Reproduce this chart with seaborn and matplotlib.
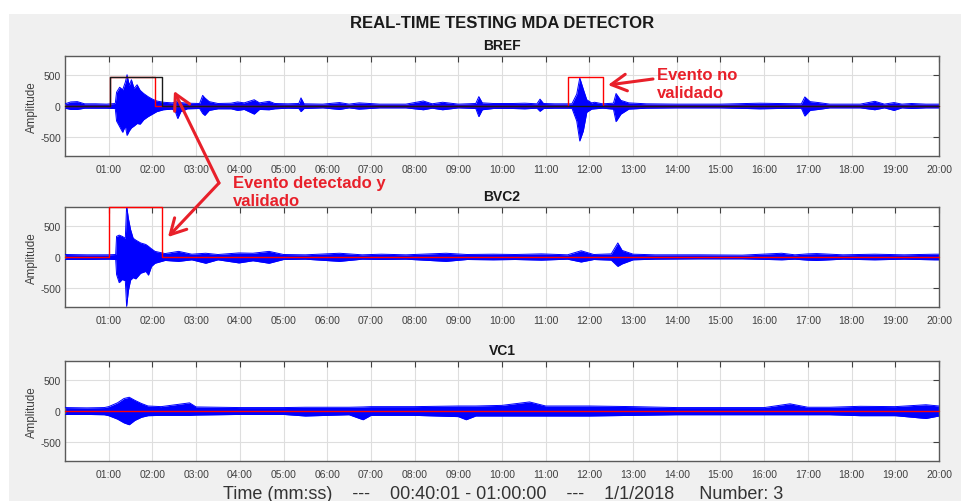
import numpy as np
import pandas as pd
import matplotlib
matplotlib.use("Agg")
import matplotlib.pyplot as plt
import seaborn as sns
from matplotlib.patches import Rectangle, FancyArrowPatch

sns.set_style("white")
plt.rcParams['font.family'] = ['Liberation Sans', 'DejaVu Sans']

# ---------------- data ----------------
stations = ["BREF", "BVC2", "VC1"]

bref_t = [0.00, 0.13, 0.28, 0.45, 0.70, 0.95, 1.15, 1.18, 1.25, 1.32, 1.38, 1.42, 1.47, 1.52, 1.58, 1.65,
          1.72, 1.80, 1.90, 2.00, 2.10, 2.25, 2.45, 2.52, 2.58, 2.65, 2.80, 3.08, 3.15, 3.20, 3.30, 3.50,
          3.80, 3.95, 4.10, 4.33, 4.45, 4.67, 4.80, 5.10, 5.35, 5.40, 5.47, 5.90, 6.28, 6.50, 6.73, 7.20,
          7.80, 8.20, 8.40, 8.64, 9.00, 9.40, 9.47, 9.55, 9.80, 10.25, 10.52, 10.80, 10.87, 10.95, 11.20,
          11.60, 11.71, 11.78, 11.86, 11.94, 12.05, 12.12, 12.30, 12.55, 12.61, 12.72, 12.90, 13.30, 14.00,
          15.00, 15.90, 16.30, 16.85, 16.93, 17.05, 17.24, 17.50, 18.20, 18.53, 18.75, 18.97, 19.15, 19.37,
          19.70, 20.00]
bref_up = [35, 65, 70, 35, 35, 30, 40, 220, 300, 260, 380, 500, 330, 420, 280, 340,
           250, 200, 150, 110, 80, 60, 50, 60, 90, 55, 45, 40, 170, 130, 70, 40,
           45, 65, 50, 100, 50, 75, 40, 35, 40, 130, 35, 30, 55, 30, 50, 30,
           30, 80, 35, 60, 30, 40, 150, 50, 40, 40, 45, 35, 110, 40, 35,
           35, 190, 450, 270, 100, 50, 60, 35, 45, 200, 90, 50, 35, 30,
           30, 45, 40, 35, 145, 70, 55, 30, 30, 75, 30, 55, 30, 40,
           30, 30]
bref_lo = [-35, -55, -55, -35, -35, -35, -40, -240, -330, -420, -320, -470, -400, -350, -320, -280,
           -290, -220, -170, -130, -90, -60, -50, -80, -200, -90, -45, -40, -120, -150, -70, -45,
           -45, -70, -55, -130, -55, -60, -45, -35, -40, -90, -40, -30, -55, -30, -50, -30,
           -30, -60, -35, -60, -30, -40, -170, -60, -40, -40, -45, -35, -85, -40, -35,
           -35, -240, -560, -400, -100, -50, -45, -35, -50, -250, -130, -50, -35, -30,
           -30, -45, -40, -35, -160, -70, -55, -30, -30, -60, -30, -70, -30, -40,
           -30, -30]

bvc2_t = [0.00, 0.50, 1.00, 1.16, 1.18, 1.24, 1.31, 1.38, 1.41, 1.45, 1.50, 1.56, 1.62, 1.73, 1.85, 1.91,
          1.98, 2.06, 2.29, 2.60, 2.90, 3.22, 3.50, 3.98, 4.30, 4.67, 5.00, 5.50, 6.28, 6.80, 7.24, 7.80,
          8.72, 9.20, 9.80, 10.30, 10.90, 11.50, 11.81, 12.10, 12.50, 12.65, 12.75, 13.00, 13.50, 14.50,
          15.50, 16.40, 16.70, 17.00, 17.20, 17.80, 18.53, 19.20, 19.90, 20.00]
bvc2_up = [40, 35, 35, 40, 330, 350, 330, 300, 820, 620, 440, 300, 270, 225, 200, 170,
           130, 90, 55, 90, 45, 60, 40, 65, 60, 90, 40, 35, 60, 35, 45, 35,
           60, 40, 45, 40, 50, 35, 100, 40, 50, 225, 105, 45, 35, 35,
           30, 60, 35, 50, 55, 35, 45, 35, 45, 45]
bvc2_lo = [-40, -40, -35, -40, -280, -410, -360, -380, -790, -540, -370, -330, -350, -260, -230, -290,
           -150, -100, -55, -70, -45, -100, -45, -95, -60, -100, -40, -35, -70, -35, -40, -35,
           -70, -40, -45, -40, -50, -35, -80, -40, -50, -150, -110, -45, -35, -30,
           -30, -45, -35, -50, -55, -35, -45, -35, -45, -45]

vc1_t = [0.00, 0.50, 0.90, 1.00, 1.20, 1.35, 1.47, 1.60, 1.75, 1.90, 2.20, 2.85, 3.00, 4.00, 5.00, 5.50,
         6.50, 6.82, 7.00, 8.00, 9.00, 9.18, 9.40, 10.00, 10.63, 11.00, 12.00, 13.00, 14.00, 15.00,
         16.00, 16.59, 17.00, 17.50, 18.20, 19.00, 19.70, 20.00]
vc1_up = [55, 50, 55, 70, 130, 200, 220, 170, 120, 80, 70, 130, 65, 55, 55, 60,
          60, 65, 70, 70, 80, 80, 80, 90, 145, 80, 80, 70, 55, 55,
          55, 115, 60, 60, 75, 70, 100, 80]
vc1_lo = [-55, -55, -60, -75, -130, -190, -220, -150, -100, -75, -70, -70, -65, -55, -55, -80,
          -60, -140, -70, -70, -90, -140, -80, -80, -80, -80, -80, -70, -60, -60,
          -60, -60, -60, -60, -75, -75, -120, -80]

# detector outputs (step signals)
bref_red_t = [0, 1.04, 1.04, 2.06, 2.06, 11.52, 11.52, 12.30, 12.30, 20]
bref_red_v = [0, 0, 470, 470, 0, 0, 470, 470, 0, 0]
bref_blk_t = [0, 1.03, 1.03, 2.23, 2.23, 20]
bref_blk_v = [0, 0, 470, 470, 0, 0]
bvc2_red_t = [0, 1.01, 1.01, 2.23, 2.23, 20]
bvc2_red_v = [0, 0, 798, 798, 0, 0]
vc1_red_t = [0, 20]
vc1_red_v = [0, 0]

tick_minutes = [1, 2, 3, 4, 5, 6, 7, 8, 9, 10, 11, 12, 13, 14, 15, 16, 17, 18, 19, 20]
tick_labels = ["01:00", "02:00", "03:00", "04:00", "05:00", "06:00", "07:00", "08:00", "09:00", "10:00",
               "11:00", "12:00", "13:00", "14:00", "15:00", "16:00", "17:00", "18:00", "19:00", "20:00"]
ytick_vals = [-500, 0, 500]
ytick_labels = ["-500", "0", "500"]

title = "REAL-TIME TESTING MDA DETECTOR"
bottom_label = "Time (mm:ss)    ---    00:40:01 - 01:00:00    ---    1/1/2018     Number: 3"

# ---------------- figure ----------------
W, H = 962, 502
fig = plt.figure(figsize=(W / 100, H / 100), dpi=100, facecolor="white")
fig.add_artist(Rectangle((9 / W, 0), 1, 1 - 15 / H, transform=fig.transFigure,
                         facecolor="#f0f0f0", edgecolor="none", zorder=-10))

def fx(px):
    return px / W

def fy(py):
    return 1 - py / H

ax_tops = [57, 208, 362]
traces = [
    (bref_t, bref_up, bref_lo, [(bref_red_t, bref_red_v, "#ff0000"), (bref_blk_t, bref_blk_v, "#1a1a1a")]),
    (bvc2_t, bvc2_up, bvc2_lo, [(bvc2_red_t, bvc2_red_v, "#ff0000")]),
    (vc1_t, vc1_up, vc1_lo, [(vc1_red_t, vc1_red_v, "#ff0000")]),
]

BLUE = "#0000ff"
for name, top, (t, up, lo, steps) in zip(stations, ax_tops, traces):
    ax = fig.add_axes([fx(65), fy(top + 100), 874 / W, 100 / H])
    ax.set_facecolor("white")
    df = pd.DataFrame({"t": t, "up": up, "lo": lo})
    ax.fill_between(df["t"].to_numpy(), df["lo"].to_numpy(), df["up"].to_numpy(),
                    color=BLUE, lw=0, zorder=2)
    sns.lineplot(data=df, x="t", y="up", ax=ax, color=BLUE, lw=0.7, estimator=None, sort=False, zorder=3)
    sns.lineplot(data=df, x="t", y="lo", ax=ax, color=BLUE, lw=0.7, estimator=None, sort=False, zorder=3)
    for st, sv, col in steps:
        sdf = pd.DataFrame({"t": st, "v": sv})
        sns.lineplot(data=sdf, x="t", y="v", ax=ax, color=col, lw=1.0, estimator=None, sort=False,
                     zorder=4, clip_on=False)
    ax.set_xlim(0, 20)
    ax.set_ylim(-800, 800)
    ax.set_xticks(tick_minutes)
    ax.set_xticklabels(tick_labels)
    ax.set_yticks(ytick_vals)
    ax.set_yticklabels(ytick_labels)
    ax.grid(True, color="#dedede", lw=0.8)
    ax.set_axisbelow(True)
    ax.tick_params(direction="in", top=True, right=True, length=4, width=0.8, color="#404040",
                   labelcolor="#404040", labelsize=7.5)
    ax.tick_params(axis="x", pad=6)
    ax.tick_params(axis="y", pad=3)
    for s in ax.spines.values():
        s.set_color("#5a5a5a")
        s.set_linewidth(1.0)
    ax.set_xlabel("")
    ax.set_ylabel("Amplitude", fontsize=8.4, color="#404040")
    ax.yaxis.set_label_coords(-0.031, 0.5)
    ax.set_title(name, fontsize=10, fontweight="bold", pad=5, color="#1a1a1a")

fig.text(fx(502), fy(23), title, ha="center", va="center", fontsize=12, fontweight="bold", color="#1a1a1a")
fig.text(fx(503), fy(499), bottom_label, ha="center", va="baseline", fontsize=13, color="#333333")

RED = "#e8202a"
fig.text(fx(657), fy(80), "Evento no", ha="left", va="baseline", fontsize=12, fontweight="bold", color=RED)
fig.text(fx(657), fy(98), "validado", ha="left", va="baseline", fontsize=12, fontweight="bold", color=RED)
fig.text(fx(233), fy(188), "Evento detectado y", ha="left", va="baseline", fontsize=12, fontweight="bold", color=RED)
fig.text(fx(233), fy(205.5), "validado", ha="left", va="baseline", fontsize=12, fontweight="bold", color=RED)

arrows = [((219, 184), (174, 92)), ((219, 184), (168, 238)), ((653, 80), (608, 86))]
for (x0, y0), (x1, y1) in arrows:
    fig.add_artist(FancyArrowPatch((fx(x0), fy(y0)), (fx(x1), fy(y1)), transform=fig.transFigure,
                                   arrowstyle="->,head_length=0.55,head_width=0.3", mutation_scale=20,
                                   lw=2.2, color=RED, shrinkA=0, shrinkB=0, zorder=20))

fig.savefig("out.png", dpi=100, facecolor="white")
